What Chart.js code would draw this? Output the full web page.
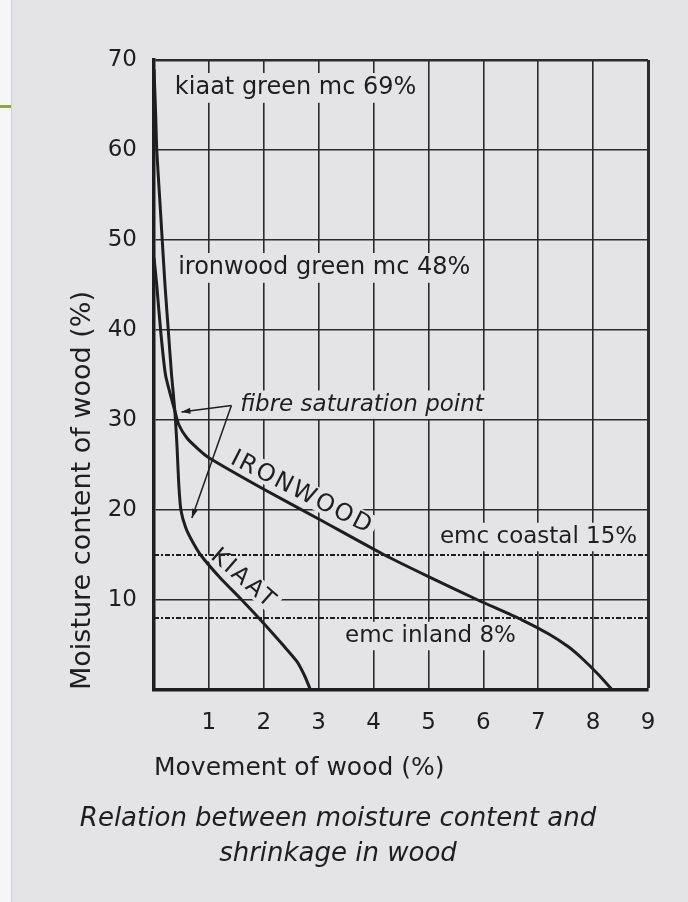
<!DOCTYPE html>
<html>
<head>
<meta charset="utf-8">
<title>Moisture content and shrinkage in wood</title>
<script src="https://cdn.jsdelivr.net/npm/chart.js@4.4.1/dist/chart.umd.min.js"></script>
<style>
  html, body { margin: 0; padding: 0; background: #e4e4e6; }
  canvas { display: block; }
</style>
</head>
<body>
<canvas id="mcChart" width="688" height="902"></canvas>
<script>
// Curves: movement of wood (%) against moisture content (%)
const kiaatMove = [0.0, 0.03, 0.05, 0.10, 0.15, 0.20, 0.26, 0.32, 0.38, 0.42, 0.45, 0.49, 0.58, 0.70, 0.85, 1.2, 1.6, 2.0, 2.35, 2.6, 2.75, 2.85];
const kiaatMc   = [69, 64, 60, 55, 50, 45, 40, 35, 31, 27, 23, 20, 18, 16.5, 15, 12.5, 10, 7.4, 5, 3.2, 1.5, 0];

const ironMove = [0.0, 0.05, 0.12, 0.21, 0.38, 0.45, 0.60, 0.80, 1.0, 2.0, 3.0, 4.2, 5.0, 5.9, 6.7, 7.2, 7.55, 7.8, 8.1, 8.35];
const ironMc   = [48, 45, 40, 35, 31, 29.5, 28, 26.8, 25.8, 22.3, 19, 15, 12.6, 10, 7.8, 6.2, 4.8, 3.5, 1.7, 0];

// equilibrium moisture content levels (horizontal dotted lines)
const emcNames  = ['coastal', 'inland'];
const emcLevels = [15, 8];

// axis ranges and tick labels
const xTickValues = [0, 1, 2, 3, 4, 5, 6, 7, 8, 9];
const xTickLabels = ['', '1', '2', '3', '4', '5', '6', '7', '8', '9'];
const yTickValues = [0, 10, 20, 30, 40, 50, 60, 70];
const yTickLabels = ['', '10', '20', '30', '40', '50', '60', '70'];

const FONT = 'DejaVu Sans';
const INK = '#1e1e1e';
const PAGE = '#e4e4e6';

// text printed on the chart (placed in data units)
const notes = [
  { text: 'kiaat green mc 69%', x: 0.38, y: 66.9, size: 24 },
  { text: 'ironwood green mc 48%', x: 0.44, y: 46.9, size: 24 },
  { text: 'emc coastal 15%', x: 5.21, y: 17.0, size: 23 },
  { text: 'emc inland 8%', x: 3.48, y: 6.0, size: 23 },
  { text: 'fibre saturation point', x: 1.57, y: 31.7, size: 23, italic: true }
];
const curveNames = [
  { text: 'IRONWOOD', x: 2.70, y: 22.0, angle: 27, size: 24, spacing: 2 },
  { text: 'KIAAT', x: 1.64, y: 12.4, angle: 41, size: 23, spacing: 2.5 }
];
// fibre saturation point pointers: from the label corner to each curve
const pointerFrom = { x: 1.41, y: 31.6 };
const pointerTo = [ { x: 0.50, y: 30.9 }, { x: 0.69, y: 19.1 } ];

function toPoints(xs, ys) {
  return xs.map((x, i) => ({ x: x, y: ys[i] }));
}

// page background, the white margin strip and the green rule
const pagePlugin = {
  id: 'page',
  beforeDraw(chart) {
    const ctx = chart.ctx;
    ctx.save();
    ctx.fillStyle = PAGE;
    ctx.fillRect(0, 0, chart.width, chart.height);
    ctx.fillStyle = '#f6f6f6';
    ctx.fillRect(0, 0, 11, chart.height);
    ctx.fillStyle = '#cfcfd2';
    ctx.fillRect(11, 0, 1, chart.height);
    ctx.fillStyle = '#8fa83c';
    ctx.fillRect(0, 105, 11, 3);
    ctx.restore();
  }
};

function arrowHead(ctx, from, to) {
  const a = Math.atan2(to.y - from.y, to.x - from.x);
  const len = 9, half = 3;
  ctx.beginPath();
  ctx.moveTo(to.x, to.y);
  ctx.lineTo(to.x - len * Math.cos(a) + half * Math.sin(a), to.y - len * Math.sin(a) - half * Math.cos(a));
  ctx.lineTo(to.x - len * Math.cos(a) - half * Math.sin(a), to.y - len * Math.sin(a) + half * Math.cos(a));
  ctx.closePath();
  ctx.fill();
}

// labels sit on small page-coloured patches that break the grid, like the print
const notesPlugin = {
  id: 'notes',
  beforeDatasetsDraw(chart) {
    const ctx = chart.ctx;
    const xs = chart.scales.x, ys = chart.scales.y;
    ctx.save();
    ctx.textBaseline = 'middle';
    notes.forEach(n => {
      ctx.font = (n.italic ? 'italic ' : '') + n.size + 'px "' + FONT + '"';
      const px = xs.getPixelForValue(n.x);
      const py = ys.getPixelForValue(n.y);
      const w = ctx.measureText(n.text).width;
      ctx.fillStyle = PAGE;
      ctx.fillRect(px - 4, py - n.size * 0.62, w + 8, n.size * 1.24);
      ctx.fillStyle = INK;
      ctx.fillText(n.text, px, py);
    });
    curveNames.forEach(n => {
      ctx.save();
      ctx.translate(xs.getPixelForValue(n.x), ys.getPixelForValue(n.y));
      ctx.rotate(n.angle * Math.PI / 180);
      ctx.font = n.size + 'px "' + FONT + '"';
      ctx.letterSpacing = n.spacing + 'px';
      const w = ctx.measureText(n.text).width;
      ctx.fillStyle = PAGE;
      ctx.fillRect(-w / 2 - 3, -n.size * 0.5, w + 6, n.size * 0.95);
      ctx.fillStyle = INK;
      ctx.textAlign = 'center';
      ctx.fillText(n.text, 0, 1);
      ctx.restore();
    });
    // pointers
    const p0 = { x: xs.getPixelForValue(pointerFrom.x), y: ys.getPixelForValue(pointerFrom.y) };
    ctx.strokeStyle = INK;
    ctx.fillStyle = INK;
    ctx.lineWidth = 1.5;
    pointerTo.forEach(t => {
      const p1 = { x: xs.getPixelForValue(t.x), y: ys.getPixelForValue(t.y) };
      ctx.beginPath();
      ctx.moveTo(p0.x, p0.y);
      ctx.lineTo(p1.x, p1.y);
      ctx.stroke();
      arrowHead(ctx, p0, p1);
    });
    ctx.restore();
  }
};

const ctx = document.getElementById('mcChart').getContext('2d');

const datasets = [
  {
    label: 'Kiaat',
    data: toPoints(kiaatMove, kiaatMc),
    borderColor: INK,
    borderWidth: 3,
    tension: 0.2
  },
  {
    label: 'Ironwood',
    data: toPoints(ironMove, ironMc),
    borderColor: INK,
    borderWidth: 3,
    tension: 0.2
  }
];
emcLevels.forEach((level, i) => {
  datasets.push({
    label: 'emc ' + emcNames[i],
    data: [ { x: xTickValues[0], y: level }, { x: xTickValues[xTickValues.length - 1], y: level } ],
    borderColor: INK,
    borderWidth: 2.2,
    borderDash: [5, 2, 2, 2],
    tension: 0
  });
});

new Chart(ctx, {
  type: 'scatter',
  data: { datasets: datasets },
  options: {
    responsive: false,
    animation: false,
    showLine: true,
    elements: { point: { radius: 0, hoverRadius: 0 } },
    layout: { padding: { left: 28, right: 40, top: 60, bottom: 0 } },
    plugins: {
      legend: { display: false },
      tooltip: { enabled: false },
      title: {
        display: true,
        position: 'bottom',
        text: ['Relation between moisture content and', 'shrinkage in wood'],
        color: INK,
        font: { family: FONT, size: 26, style: 'italic', weight: 'normal', lineHeight: 35 / 26 },
        padding: { top: 8, bottom: 30 }
      }
    },
    scales: {
      x: {
        type: 'linear',
        min: xTickValues[0],
        max: xTickValues[xTickValues.length - 1],
        afterBuildTicks(scale) { scale.ticks = xTickValues.map(v => ({ value: v })); },
        afterFit(scale) { scale.height = 104; },
        ticks: {
          padding: 19,
          color: INK,
          font: { family: FONT, size: 23 },
          callback: (v) => xTickLabels[xTickValues.indexOf(v)]
        },
        grid: {
          drawTicks: false,
          color: '#2b2b2b',
          lineWidth: (c) => (c.tick && c.tick.value === 9) ? 3 : 1.6
        },
        border: { display: true, color: INK, width: 3.5 },
        title: {
          display: true,
          text: 'Movement of wood (%)',
          align: 'start',
          color: INK,
          font: { family: FONT, size: 25 },
          padding: { top: 0, bottom: 11 }
        }
      },
      y: {
        type: 'linear',
        min: yTickValues[0],
        max: yTickValues[yTickValues.length - 1],
        afterBuildTicks(scale) { scale.ticks = yTickValues.map(v => ({ value: v })); },
        afterFit(scale) { scale.width = 126; },
        ticks: {
          padding: 17,
          color: INK,
          font: { family: FONT, size: 23 },
          callback: (v) => yTickLabels[yTickValues.indexOf(v)]
        },
        grid: {
          drawTicks: false,
          color: '#2b2b2b',
          lineWidth: (c) => (c.tick && c.tick.value === 70) ? 2.5 : 1.6
        },
        border: { display: true, color: INK, width: 3.5 },
        title: {
          display: true,
          text: 'Moisture content of wood (%)',
          align: 'start',
          color: INK,
          font: { family: FONT, size: 27 },
          padding: { top: 39, bottom: 0 }
        }
      }
    }
  },
  plugins: [pagePlugin, notesPlugin]
});
</script>
</body>
</html>
